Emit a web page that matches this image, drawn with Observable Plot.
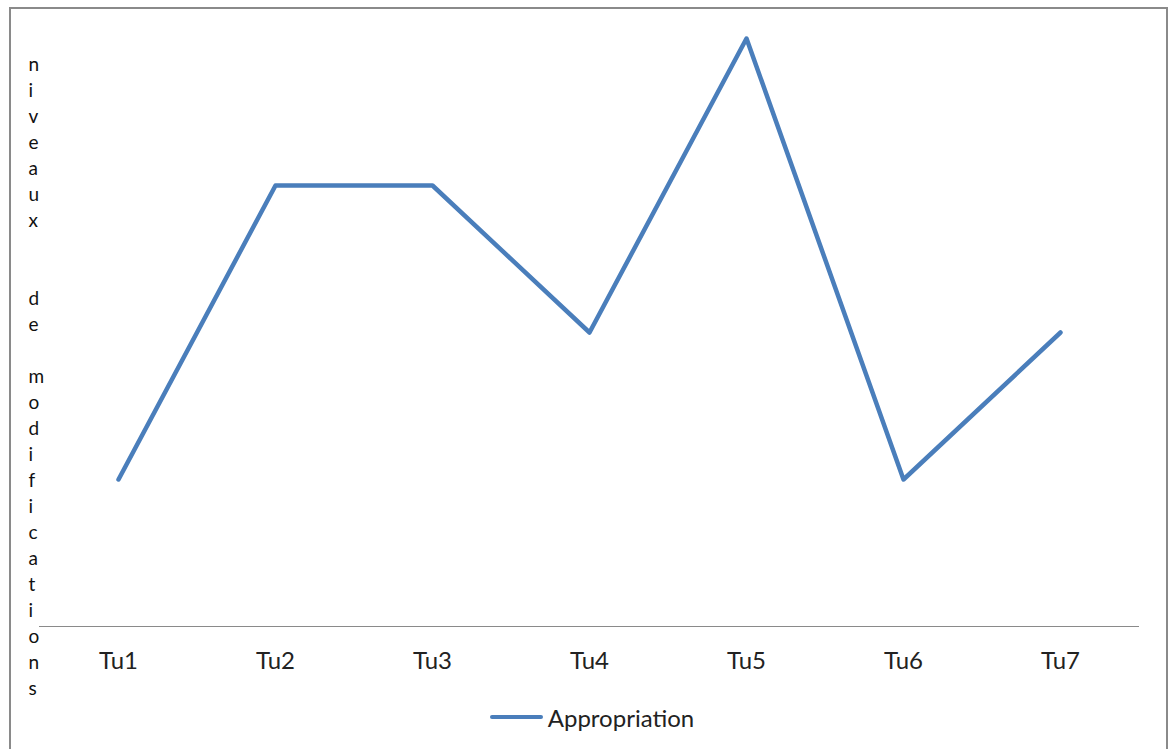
<!DOCTYPE html>
<html>
<head>
<meta charset="utf-8">
<script src="https://cdn.jsdelivr.net/npm/d3@7"></script>
<script src="https://cdn.jsdelivr.net/npm/@observablehq/plot@0.6"></script>
<style>
  html, body { margin: 0; padding: 0; background: #fff; overflow: hidden; }
  #wrap { position: relative; width: 1169px; height: 749px; }
  #frame { position: absolute; left: 9px; top: 7px; width: 1155px; height: 800px;
           border-left: 2.5px solid #8a8a8a; border-top: 2.5px solid #8a8a8a; border-right: 2.5px solid #8a8a8a;
           pointer-events: none; }
  #legend { position: absolute; left: 0; top: 700px; width: 1169px; height: 34px;
            display: flex; justify-content: center; align-items: center; padding-left: 15px; box-sizing: border-box;
            font-family: Lato, sans-serif; font-size: 24px; color: #222; }
  #legend .sw { width: 53px; height: 4.5px; background: #4a7ebb; border-radius: 2px; margin-right: 5px; }
</style>
</head>
<body>
<div id="wrap">
  <div id="chart"></div>
  <div id="legend"><span class="sw"></span><span id="legtext"></span></div>
  <div id="frame"></div>
</div>
<script>
const categories = ["Tu1", "Tu2", "Tu3", "Tu4", "Tu5", "Tu6", "Tu7"];
const appropriation = [1, 3, 3, 2, 4, 1, 2];
const seriesName = "Appropriation";
const yLabelLines = ["niveaux", "", "", "de", "", "modifications"];

const data = categories.map((c, i) => ({cat: c, value: appropriation[i]}));
const verticalLabel = yLabelLines
  .map(w => w === "" ? "\u00a0" : w.split("").join("\n"))
  .join("\n");

const chart = Plot.plot({
  width: 1169,
  height: 700,
  marginLeft: 39,
  marginRight: 30,
  marginTop: 38,
  marginBottom: 74,
  style: {fontFamily: "Lato, sans-serif", background: "transparent", overflow: "visible"},
  x: {type: "point", domain: categories, padding: 0.5, axis: null},
  y: {domain: [0, 4], axis: null},
  marks: [
    Plot.ruleY([0], {stroke: "#8a8a8a", strokeWidth: 1.2}),
    Plot.axisX({tickSize: 0, tickPadding: 25, fontSize: 24, color: "#222", label: null}),
    Plot.line(data, {x: "cat", y: "value", stroke: "#4a7ebb", strokeWidth: 4.5,
                     strokeLinecap: "round", strokeLinejoin: "round"}),
    Plot.text([verticalLabel], {text: d => d, frameAnchor: "top-left", textAnchor: "start",
                                lineAnchor: "top", lineHeight: 26 / 19, fontSize: 19,
                                dx: -11, dy: 14, fill: "#111"})
  ]
});
document.getElementById("chart").appendChild(chart);
document.getElementById("legtext").textContent = seriesName;
</script>
</body>
</html>
